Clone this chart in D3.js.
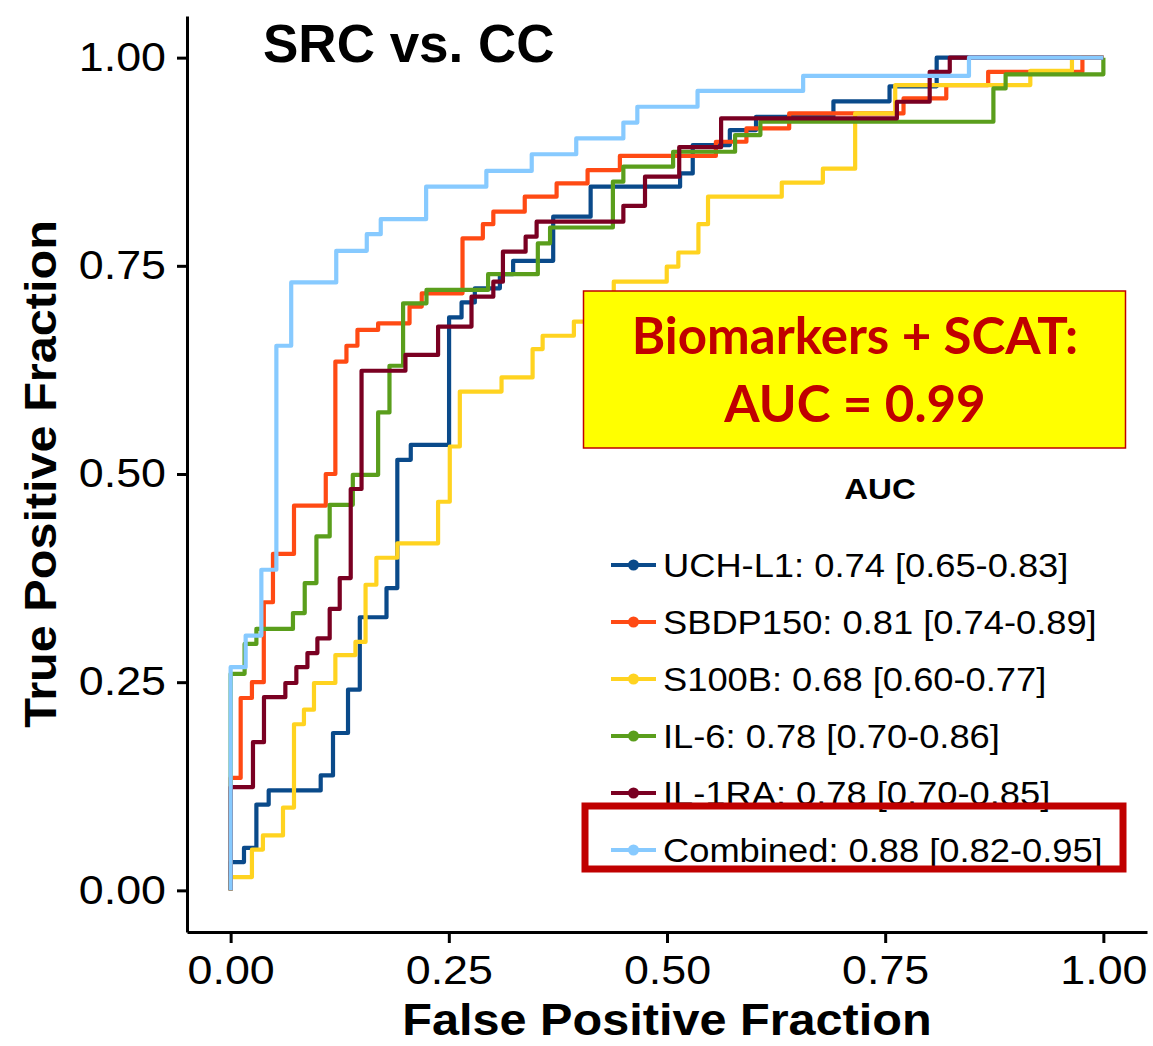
<!DOCTYPE html>
<meta charset="utf-8">
<body style="margin:0; background:#fff">

<script src="https://d3js.org/d3.v7.min.js"></script>
<script>
// ROC curves: each point is [false positive fraction, true positive fraction]
// taken right after a step up, so the path is drawn with curveStepAfter
var uchl1 = [[0,0],[0,0.034],[0.0153,0.051],[0.0295,0.103],[0.0436,0.120],[0.1032,0.138],
  [0.1173,0.189],[0.1345,0.241],[0.148,0.328],[0.1786,0.363],[0.191,0.517],[0.2064,0.535],
  [0.2503,0.688],[0.2646,0.706],[0.2798,0.723],[0.3085,0.740],[0.3237,0.756],[0.3696,0.809],
  [0.4125,0.845],[0.515,0.861],[0.5295,0.895],[0.572,0.913],[0.602,0.929],[0.6907,0.9475],
  [0.755,0.9655],[0.809,1],[1,1]];

var sbdp150 = [[0,0],[0,0.135],[0.0115,0.231],[0.0244,0.250],[0.038,0.346],[0.0485,0.404],
  [0.0726,0.462],[0.109,0.500],[0.120,0.635],[0.1327,0.654],[0.1453,0.673],[0.169,0.681],
  [0.205,0.701],[0.219,0.717],[0.2657,0.783],[0.289,0.800],[0.301,0.815],[0.337,0.833],
  [0.3735,0.849],[0.409,0.865],[0.446,0.882],[0.556,0.899],[0.591,0.915],[0.640,0.933],
  [0.771,0.951],[0.820,0.967],[0.868,0.983],[0.976,1],[1,1]];

var s100b = [[0,0],[0,0.016],[0.0244,0.049],[0.037,0.066],[0.060,0.0994],[0.0726,0.1995],
  [0.084,0.217],[0.0955,0.249],[0.120,0.2825],[0.143,0.2984],[0.1546,0.367],[0.167,0.3994],
  [0.191,0.4167],[0.2377,0.4667],[0.2511,0.533],[0.2626,0.599],[0.3104,0.616],[0.346,0.650],
  [0.3575,0.666],[0.3933,0.683],[0.415,0.700],[0.439,0.731],[0.4997,0.749],[0.513,0.766],
  [0.536,0.800],[0.547,0.833],[0.6315,0.850],[0.6786,0.8666],[0.7156,0.933],[0.7615,0.967],
  [0.9163,0.984],[0.964,1],[1,1]];

var il6 = [[0,0],[0,0.260],[0.016,0.296],[0.0295,0.314],[0.0714,0.333],[0.0849,0.369],
  [0.0983,0.425],[0.1135,0.463],[0.140,0.499],[0.169,0.574],[0.182,0.630],[0.1976,0.705],
  [0.2244,0.721],[0.295,0.740],[0.352,0.777],[0.366,0.796],[0.438,0.851],[0.450,0.869],
  [0.507,0.887],[0.578,0.907],[0.607,0.923],[0.874,0.963],[0.888,0.980],[1,1]];

var il1ra = [[0,0],[0,0.124],[0.0256,0.178],[0.0382,0.232],[0.0627,0.249],[0.0753,0.268],
  [0.088,0.285],[0.0994,0.3025],[0.1135,0.338],[0.125,0.375],[0.1376,0.482],[0.150,0.624],
  [0.2003,0.643],[0.2377,0.677],[0.276,0.713],[0.301,0.731],[0.312,0.767],[0.338,0.785],
  [0.3506,0.803],[0.450,0.822],[0.4748,0.857],[0.514,0.8925],[0.562,0.927],[0.7634,0.947],
  [0.801,0.983],[0.824,1],[1,1]];

var combined = [[0,0],[0,0.268],[0.0172,0.306],[0.0352,0.385],[0.0524,0.654],[0.0694,0.730],
  [0.121,0.768],[0.156,0.788],[0.172,0.806],[0.224,0.845],[0.293,0.864],[0.345,0.884],
  [0.396,0.903],[0.450,0.922],[0.466,0.941],[0.535,0.960],[0.656,0.978],[0.846,1],[1,1]];

var markers = ["UCH-L1", "SBDP150", "S100B", "IL-6", "IL-1RA", "Combined"];
var aucLabels = ["0.74 [0.65-0.83]", "0.81 [0.74-0.89]", "0.68 [0.60-0.77]",
                 "0.78 [0.70-0.86]", "0.78 [0.70-0.85]", "0.88 [0.82-0.95]"];
var colors = ["#0A4A8A", "#FF4A14", "#FFD320", "#5A9E1C", "#7A0022", "#87CAFF"];
var curves = [uchl1, sbdp150, s100b, il6, il1ra, combined];
var tickValues = [0, 0.25, 0.5, 0.75, 1];

var font = "'Liberation Sans', Arial, sans-serif";

// panel margins and size
var margin = {top: 16, right: 6, bottom: 114, left: 187},
  width = 1153 - margin.left - margin.right,
  height = 1046 - margin.top - margin.bottom;

var svg = d3.select("body").append("svg")
    .attr("width", 1153)
    .attr("height", 1046)
    .style("display", "block");

var g = svg.append("g")
    .attr("transform", "translate(" + margin.left + "," + margin.top + ")");

// 5% expansion on both axes
var x = d3.scaleLinear().domain([-0.05, 1.05]).range([0, width]);
var y = d3.scaleLinear().domain([-0.05, 1.05]).range([height, 0]);

// axes
var xAxis = g.append("g")
    .attr("transform", "translate(0," + height + ")")
    .call(d3.axisBottom(x).tickValues(tickValues).tickFormat(d3.format(".2f"))
      .tickSize(11).tickSizeOuter(0).tickPadding(13));
var yAxis = g.append("g")
    .call(d3.axisLeft(y).tickValues(tickValues).tickFormat(d3.format(".2f"))
      .tickSize(10).tickSizeOuter(0).tickPadding(11));

[xAxis, yAxis].forEach(function(a) {
  a.select(".domain").attr("stroke", "#000").attr("stroke-width", 3);
  a.selectAll(".tick line").attr("stroke", "#000").attr("stroke-width", 3);
  a.selectAll(".tick text")
    .attr("fill", "#000")
    .style("font-family", font)
    .style("font-size", "40px");
});
xAxis.selectAll(".tick text").attr("transform", "scale(1.12,1)");
yAxis.selectAll(".tick text")
    .attr("x", null)
    .attr("transform", "translate(-21,0) scale(1.12,1)");

// ROC lines
var line = d3.line()
    .x(function(d) { return x(d[0]); })
    .y(function(d) { return y(d[1]); })
    .curve(d3.curveStepAfter);

g.selectAll(".roc")
  .data(curves)
  .enter().append("path")
    .attr("class", "roc")
    .attr("d", line)
    .attr("fill", "none")
    .attr("stroke", function(d, i) { return colors[i]; })
    .attr("stroke-width", 4.2)
    .attr("stroke-linejoin", "round");

// axis titles
svg.append("text")
    .attr("transform", "translate(" + (margin.left + width / 2) + ",1035) scale(1.08,1)")
    .attr("text-anchor", "middle")
    .style("font-family", font).style("font-weight", "bold").style("font-size", "45px")
    .text("False Positive Fraction");

svg.append("text")
    .attr("transform", "translate(56," + (margin.top + height / 2) + ") rotate(-90) scale(1.08,1)")
    .attr("text-anchor", "middle")
    .style("font-family", font).style("font-weight", "bold").style("font-size", "45px")
    .text("True Positive Fraction");

// plot title
svg.append("text")
    .attr("x", 263).attr("y", 62)
    .style("font-family", font).style("font-weight", "bold").style("font-size", "53px")
    .text("SRC vs. CC");

// highlighted box for the combined model
svg.append("rect")
    .attr("x", 583.5).attr("y", 291).attr("width", 542).attr("height", 157)
    .attr("fill", "#FFFF00").attr("stroke", "#C00000").attr("stroke-width", 1.5);
var note = svg.append("text")
    .attr("text-anchor", "middle")
    .style("font-family", "Lato, 'Open Sans', sans-serif").style("font-weight", "bold")
    .style("font-size", "51px").attr("fill", "#C00000");
note.append("tspan").attr("x", 855).attr("y", 354).text("Biomarkers + SCAT:");
note.append("tspan").attr("x", 855).attr("y", 422).text("AUC = 0.99");

// legend
svg.append("text")
    .attr("transform", "translate(880,499) scale(1.1,1)")
    .attr("text-anchor", "middle")
    .style("font-family", font).style("font-weight", "bold").style("font-size", "30px")
    .text("AUC");

var legend = svg.selectAll(".key")
  .data(markers)
  .enter().append("g")
    .attr("class", "key")
    .attr("transform", function(d, i) { return "translate(0," + (565 + i * 57) + ")"; });

legend.append("line")
    .attr("x1", 611).attr("x2", 656)
    .attr("stroke", function(d, i) { return colors[i]; })
    .attr("stroke-width", 4.2);
legend.append("circle")
    .attr("cx", 633.5).attr("r", 5.5)
    .attr("fill", function(d, i) { return colors[i]; });
legend.append("text")
    .attr("transform", "translate(663,12) scale(1.1,1)")
    .style("font-family", font).style("font-size", "33px")
    .text(function(d, i) { return d + ": " + aucLabels[i]; });

// red frame around the combined entry
svg.append("rect")
    .attr("x", 585).attr("y", 806).attr("width", 538).attr("height", 63)
    .attr("fill", "none").attr("stroke", "#C00000").attr("stroke-width", 7);
</script>
</body>
